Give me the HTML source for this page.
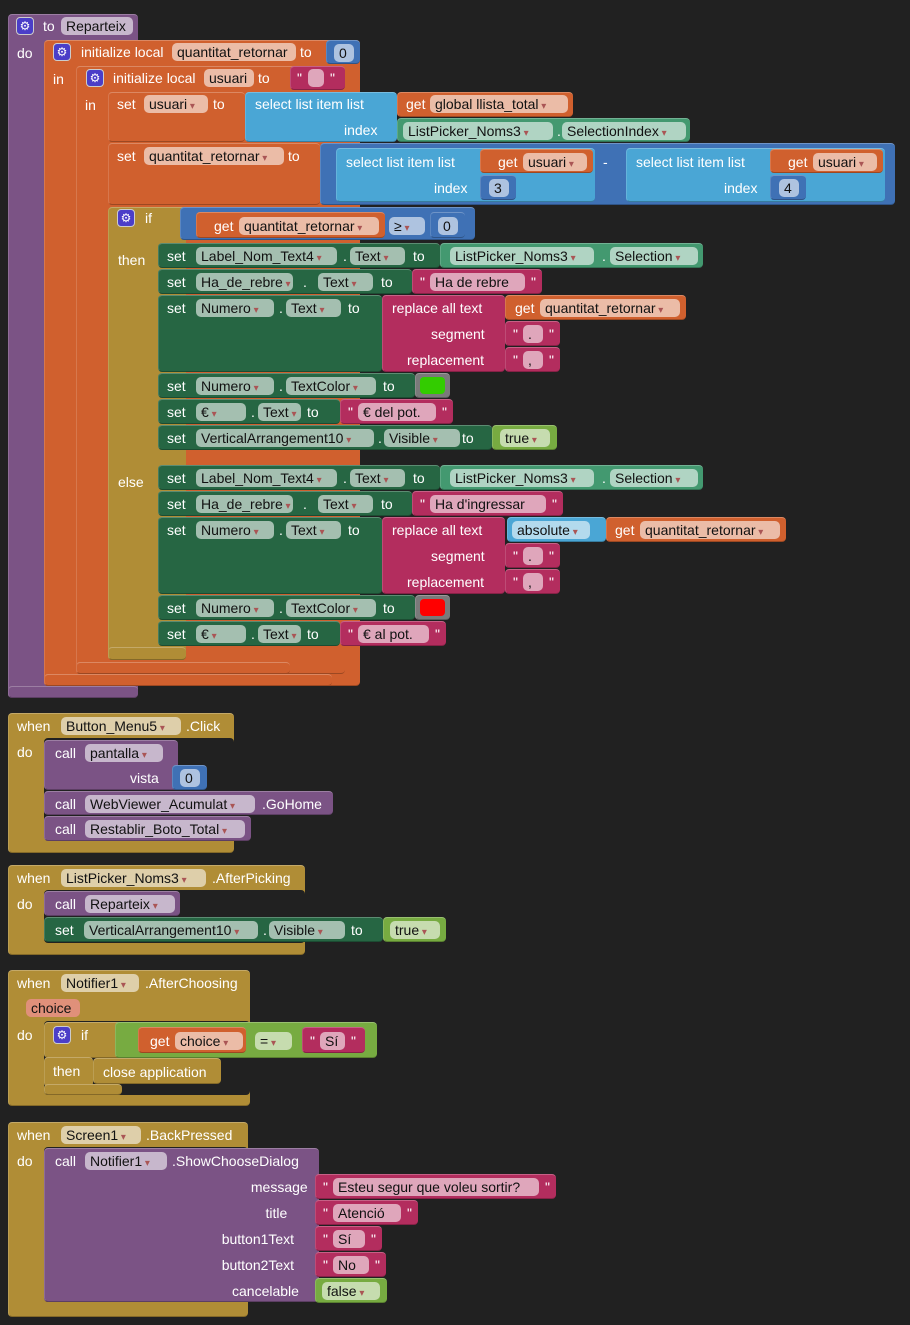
<!DOCTYPE html>
<html><head><meta charset="utf-8">
<style>
body{margin:0;width:910px;height:1325px;background:#212121;overflow:hidden;position:relative;font-family:"Liberation Sans",sans-serif;}
.b{position:absolute;border-radius:4px;box-sizing:border-box;border-top:1px solid rgba(255,255,255,0.25);border-left:1px solid rgba(255,255,255,0.15);border-bottom:1px solid rgba(0,0,0,0.25);}
.t{position:absolute;color:#fff;font-size:14px;line-height:16px;white-space:nowrap;}
.p{position:absolute;height:18px;border-radius:5px;background:rgba(255,255,255,0.58);color:#111;font-size:14px;line-height:18px;padding:0 5px;white-space:nowrap;box-sizing:border-box;overflow:hidden;}
.p.d:after{content:" \25BE";font-size:10px;color:#a55;}
.g{position:absolute;width:18px;height:18px;border-radius:4px;background:#4b3ec8;border:1px solid #ccc;box-sizing:border-box;color:#fff;font-size:12px;line-height:16px;text-align:center;}
</style></head>
<body>
<script>
const PU='#7b5385',OR='#d0602e',MB='#3f71b5',LB='#4aa6d5',MG='#b32d5e',DG='#266643',LG='#439970',GO='#b08d36',LO='#77ab41',GR='#7a7a7a';
function B(x,y,w,h,c,n){const e=document.createElement('div');e.className='b';


e.style.cssText=`left:${x}px;top:${y}px;width:${w}px;height:${h}px;background:${c}`;document.body.appendChild(e);return e;}
function T(x,y,s,n){const e=document.createElement('div');e.className='t';


e.style.left=x+'px';e.style.top=(y+5)+'px';e.textContent=s;document.body.appendChild(e);return e;}
function P(x,y,w,s,n,d){const e=document.createElement('div');e.className='p'+(d?' d':'');


e.style.cssText=`left:${x}px;top:${y+4}px;width:${w}px`;e.textContent=s;document.body.appendChild(e);return e;}
function G(x,y){const e=document.createElement('div');e.className='g';


e.style.left=x+'px';e.style.top=(y+4)+'px';e.textContent='⚙';document.body.appendChild(e);}
function Q(x,y,w,s,n){T(x,y,'"','quote');P(x+10,y,w,s,n);T(x+w+16,y,'"','quote');}

// procedure
B(8,14,130,684,PU,'procedure-reparteix');
G(16,13);T(43,13,'to','to-label');P(61,13,72,'Reparteix','proc-name');T(17,40,'do','do-label');
// init local 1
B(44,40,316,646,OR,'init-local-quantitat');
G(53,39);T(81,39,'initialize local','init-label');P(172,39,124,'quantitat_retornar','var-quantitat');T(300,39,'to','to-label');
B(326,40,34,24,MB,'number-0');P(334,40,20,'0','num-0');
// init local 2
B(76,66,269,608,OR,'init-local-usuari');
T(53,66,'in','in-label');
G(86,65);T(113,65,'initialize local','init-label');P(204,65,50,'usuari','var-usuari');T(258,65,'to','to-label');
B(290,66,55,24,MG,'text-empty');T(297,65,'"','q');P(308,65,16,'','empty-str');T(330,65,'"','q');
T(85,92,'in','in-label');
// set usuari
B(108,92,137,50,OR,'set-usuari');T(117,91,'set','set-label');P(144,91,64,'usuari','var-usuari',1);T(213,91,'to','to');
B(245,92,152,50,LB,'select-list-item');T(255,91,'select list item  list','sel-label');T(344,117,'index','index-label');
B(397,92,176,25,OR,'get-global');T(406,91,'get','get');P(430,91,138,'global llista_total','global-var',1);
B(397,118,293,24,LG,'listpicker-selectionindex');P(403,118,150,'ListPicker_Noms3','comp',1);T(557,118,'.','dot');P(562,118,124,'SelectionIndex','prop',1);
// set quantitat
B(108,143,212,62,OR,'set-quantitat');T(117,143,'set','set');P(144,143,140,'quantitat_retornar','var',1);T(288,143,'to','to');
B(320,143,575,62,MB,'subtract-block');T(603,149,'-','minus');
B(336,148,259,54,LB,'select-list-item-3');T(346,149,'select list item  list','sel');T(434,175,'index','idx');
B(480,149,113,24,OR,'get-usuari');T(498,149,'get','get');P(523,149,64,'usuari','var',1);
B(480,175,36,25,MB,'number-3');P(489,175,20,'3','n3');
B(626,148,259,54,LB,'select-list-item-4');T(636,149,'select list item  list','sel');T(724,175,'index','idx');
B(770,149,113,24,OR,'get-usuari-2');T(788,149,'get','get');P(813,149,64,'usuari','var',1);
B(770,175,36,25,MB,'number-4');P(779,175,20,'4','n4');
// if block
B(108,207,78,453,GO,'if-else-block');
B(180,207,295,33,MB,'compare-block');
B(196,212,189,26,OR,'get-quantitat');T(214,213,'get','get');P(239,213,140,'quantitat_retornar','var',1);P(389,213,36,'≥','op',1);
B(430,212,35,26,MB,'number-0b');P(438,213,20,'0','n0');
G(117,205);T(145,205,'if','if');T(118,247,'then','then');T(118,469,'else','else');
function branch(y0,txt,tw,abs,col,ct,ctw){
 B(158,y0,282,25,DG,'set-label-nom');T(167,y0,'set','set');P(196,y0,141,'Label_Nom_Text4','comp',1);T(343,y0,'.','dot');P(350,y0,55,'Text','prop',1);T(413,y0,'to','to');
 B(440,y0,263,25,LG,'listpicker-selection');P(450,y0,144,'ListPicker_Noms3','comp',1);T(602,y0,'.','dot');P(610,y0,88,'Selection','prop',1);
 let y=y0+26;
 B(158,y,254,25,DG,'set-ha-de-rebre');T(167,y,'set','set');P(196,y,97,'Ha_de_rebre','comp',1);T(303,y,'.','dot');P(318,y,55,'Text','prop',1);T(381,y,'to','to');
 B(412,y,tw,25,MG,'text-block');Q(420,y,tw-35,txt,'text-value');
 y+=26;
 B(158,y,224,77,DG,'set-numero-text');T(167,y,'set','set');P(196,y,78,'Numero','comp',1);T(279,y,'.','dot');P(286,y,55,'Text','prop',1);T(348,y,'to','to');
 B(382,y,123,77,MG,'replace-all-text');T(392,y,'replace all text','rep');T(431,y+26,'segment','seg');T(407,y+52,'replacement','repl');
 if(abs){B(507,y,99,25,LB,'absolute-block');P(512,y,78,'absolute','abs',1);B(606,y,180,25,OR,'get-quantitat');T(615,y,'get','get');P(640,y,140,'quantitat_retornar','var',1);}
 else{B(505,y,181,25,OR,'get-quantitat');T(515,y,'get','get');P(540,y,140,'quantitat_retornar','var',1);}
 B(505,y+26,55,25,MG,'text-dot');Q(513,y+26,20,'.','dot-str');
 B(505,y+52,55,25,MG,'text-comma');Q(513,y+52,20,',','comma-str');
 y+=78;
 B(158,y,257,25,DG,'set-numero-textcolor');T(167,y,'set','set');P(196,y,78,'Numero','comp',1);T(279,y,'.','dot');P(286,y,90,'TextColor','prop',1);T(383,y,'to','to');
 B(415,y,35,25,GR,'color-block');const c=document.createElement('div');
 
 
 c.style.cssText=`position:absolute;left:420px;top:${y+4}px;width:25px;height:17px;border-radius:4px;background:${col}`;document.body.appendChild(c);
 y+=26;
 B(158,y,182,25,DG,'set-euro-text');T(167,y,'set','set');P(196,y,50,'€','comp',1);T(251,y,'.','dot');P(258,y,43,'Text','prop',1);T(307,y,'to','to');
 B(340,y,ctw,25,MG,'text-euro');Q(348,y,ctw-35,ct,'text-value');
}
branch(243,'Ha de rebre',130,false,'#33cc00','€ del pot.',113);
B(158,425,334,25,DG,'set-verticalarr-visible');T(167,425,'set','set');P(196,425,178,'VerticalArrangement10','comp',1);T(378,425,'.','dot');P(384,425,76,'Visible','prop',1);T(462,425,'to','to');
B(492,425,65,25,LO,'true-block');P(500,425,50,'true','bool',1);
branch(465,"Ha d'ingressar",151,true,'#ff0000','€ al pot.',106);
// bottoms
B(108,647,78,13,GO,'if-bottom');B(76,662,214,12,OR,'init2-bottom');B(44,674,288,12,OR,'init1-bottom');B(8,686,130,12,PU,'proc-bottom');

// Button_Menu5.Click
B(8,713,226,140,GO,'event-button-menu5-click');B(44,738,190,102,'#212121','gap').style.border='none';
T(17,713,'when','when');P(61,713,120,'Button_Menu5','comp',1);T(186,713,'.Click','evt');T(17,739,'do','do');
B(44,740,134,50,PU,'call-pantalla');T(55,740,'call','call');P(85,740,78,'pantalla','proc',1);T(130,765,'vista','arg');
B(172,765,35,25,MB,'number-0c');P(180,765,20,'0','n');
B(44,791,289,24,PU,'call-webviewer-gohome');T(55,791,'call','call');P(85,791,170,'WebViewer_Acumulat','comp',1);T(262,791,'.GoHome','m');
B(44,816,207,25,PU,'call-restablir');T(55,816,'call','call');P(85,816,160,'Restablir_Boto_Total','proc',1);
// ListPicker AfterPicking
B(8,865,297,90,GO,'event-listpicker-afterpicking');B(44,890,261,53,'#212121','gap').style.border='none';
T(17,865,'when','when');P(61,865,145,'ListPicker_Noms3','comp',1);T(212,865,'.AfterPicking','evt');T(17,891,'do','do');
B(44,891,136,25,PU,'call-reparteix');T(55,891,'call','call');P(85,891,90,'Reparteix','proc',1);
B(44,917,339,25,DG,'set-visible-2');T(55,917,'set','set');P(84,917,174,'VerticalArrangement10','comp',1);T(263,917,'.','dot');P(269,917,76,'Visible','prop',1);T(351,917,'to','to');
B(383,917,63,25,LO,'true-block-2');P(390,917,50,'true','bool',1);
// Notifier1 AfterChoosing
B(8,970,242,136,GO,'event-afterchoosing');B(44,1021,206,74,'#212121','gap').style.border='none';
T(17,970,'when','when');P(61,970,78,'Notifier1','comp',1);T(145,970,'.AfterChoosing','evt');
const ch=P(26,995,54,'choice','param');
ch.style.background='#e0907a';
T(17,1022,'do','do');
B(44,1022,78,36,GO,'if-block-2');B(44,1057,49,30,GO,'if-block-2-left');
G(53,1022);T(81,1022,'if','if');T(53,1058,'then','then');
B(115,1022,262,36,LO,'equals-block');B(138,1027,108,26,OR,'get-choice');T(150,1028,'get','get');P(175,1028,68,'choice','var',1);
P(255,1028,37,'=','op',1);B(302,1027,63,26,MG,'text-si');Q(310,1028,25,'Sí','si');
B(93,1058,128,26,GO,'close-application');T(103,1059,'close application','close');
B(44,1084,78,11,GO,'if2-bottom');
// Screen1 BackPressed
B(8,1122,240,195,GO,'event-backpressed');B(44,1147,204,155,'#212121','gap').style.border='none';
T(17,1122,'when','when');P(61,1122,80,'Screen1','comp',1);T(146,1122,'.BackPressed','evt');T(17,1148,'do','do');
B(44,1148,275,154,PU,'call-showchoosedialog');T(55,1148,'call','call');P(85,1148,82,'Notifier1','comp',1);T(172,1148,'.ShowChooseDialog','m');
const labels=['message','title','button1Text','button2Text'],vals=['Esteu segur que voleu sortir?','Atenció','Sí','No'],ws=[241,103,67,71];
labels.forEach((l,i)=>{const y=1174+26*i;T(302-l.length*7.3,y,l,'arg-label');B(315,y,ws[i],25,MG,'text-arg');Q(323,y,ws[i]-35,vals[i],'arg-value');});
T(232,1278,'cancelable','arg-label');B(315,1278,72,25,LO,'false-block');P(322,1278,58,'false','bool',1);
</script>
</body></html>
